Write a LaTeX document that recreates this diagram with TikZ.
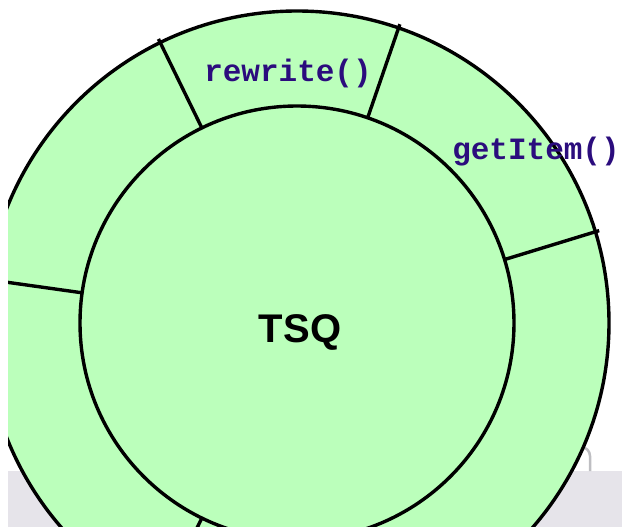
\documentclass[tikz,border=0pt]{standalone}
\usepackage{fontspec}
\usetikzlibrary{calc}
\setmainfont{Liberation Sans}
\newfontfamily\codefont{Liberation Mono}
\definecolor{ringfill}{RGB}{187,255,187}
\definecolor{codeink}{RGB}{43,12,125}
\definecolor{panelgray}{RGB}{230,228,234}
\definecolor{panelline}{RGB}{190,190,194}
\tikzset{
  ring/.style={draw=black, line width=3.4pt, fill=ringfill},
  spoke/.style={draw=black, line width=3.4pt},
  method/.style={text=codeink, font=\codefont\bfseries\fontsize{31}{31}\selectfont, inner sep=0pt, anchor=base},
  title/.style={text=black, font=\bfseries\fontsize{40}{40}\selectfont, inner sep=0pt, anchor=base}
}
\begin{document}
\begin{tikzpicture}[x=1pt,y=1pt]
  \useasboundingbox (0,-527) rectangle (622,0);
  \clip (8,-527) rectangle (622,0);
  % grey panel behind the ring
  \fill[panelgray] (8,-527) rectangle (622,-471);
  \draw[panelline, line width=2.5pt] (590,-471) -- (590,-456) arc[start angle=0, end angle=90, radius=9] -- (560,-447);
  % ring geometry
  \coordinate (c) at (297,-323);
  \def\outerR{312}
  \def\innerR{217}
  \path[ring] (c) circle[radius=\outerR];
  % sector dividers
  \foreach \a in {17,71,116,172,244}
    \draw[spoke] ($(c)+(\a:\innerR)$) -- ($(c)+(\a:\outerR+4)$);
  \node[circle, ring, minimum size=2*\innerR pt, inner sep=0pt] (core) at (c) {};
  % labels
  \node[title] (tsq) at (300,-342) {TSQ};
  \node[method] (rw) at (288,-82) {rewrite()};
  \node[method] (gi) at (536,-159) {getItem()};
\end{tikzpicture}
\end{document}
